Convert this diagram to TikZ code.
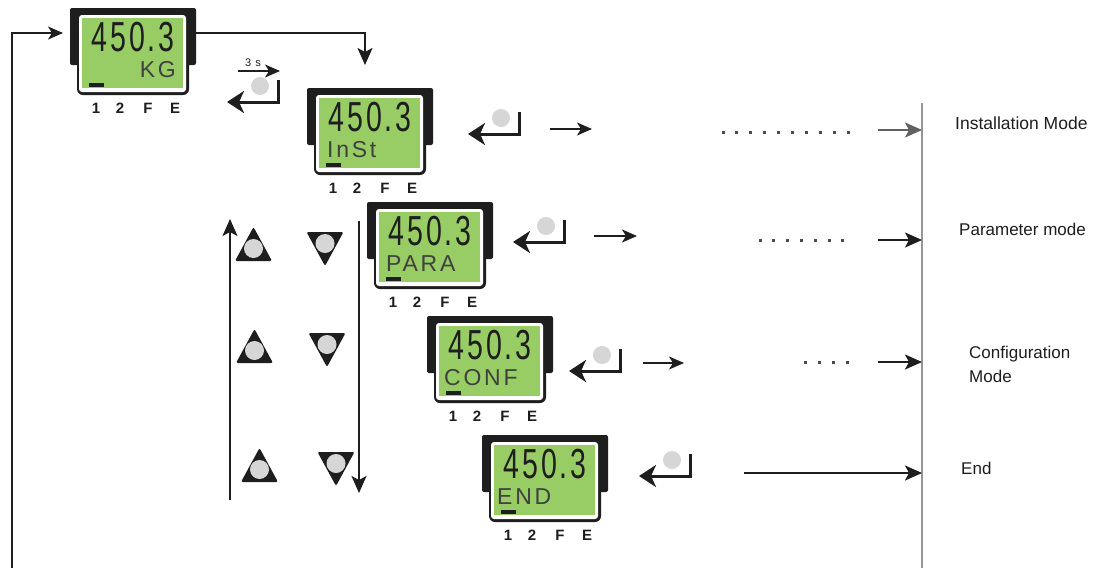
\documentclass[tikz,border=0pt]{standalone}
\usepackage{fontspec}
\setmainfont{Liberation Sans}
\usetikzlibrary{arrows.meta}
\definecolor{lcdgreen}{RGB}{152,204,100}
\definecolor{keygray}{RGB}{214,214,214}
\definecolor{ink}{RGB}{30,30,30}
\definecolor{railgray}{RGB}{150,150,150}
\tikzset{
  enterarrow/.style={line width=3pt, draw=ink, -{Stealth[length=17pt,width=22pt,inset=5pt]}},
  thinarrow/.style={line width=1.3pt, draw=ink, -{Stealth[length=15pt,width=13pt,inset=4pt]}},
  boldarrow/.style={line width=2.2pt, draw=ink, -{Stealth[length=17pt,width=15pt,inset=4pt]}},
  looparrow/.style={line width=1.1pt, draw=ink, -{Stealth[length=15pt,width=13pt,inset=4pt]}},
  keylabel/.style={inner sep=0pt, font=\bfseries\fontsize{15}{15}\selectfont, text=ink},
  modelabel/.style={inner sep=0pt, anchor=west, font=\fontsize{17}{24}\selectfont, text=ink, align=left},
  dotmark/.style={fill=ink!80},
}
\newcommand\lcdunit[6]{%
  \begin{scope}[shift={(#2,#3)}]
    \fill[ink, rounded corners=2pt] (0,0) rectangle (126,57);
    \fill[ink, rounded corners=6pt] (7,30) rectangle (119,87);
    \fill[white, rounded corners=3pt] (9,7) rectangle (116,84);
    \fill[lcdgreen] (12,10) rectangle (113,80);
    \node[inner sep=0pt, font=\fontsize{42}{42}\selectfont\addfontfeature{LetterSpace=10}, text=ink] (#1-dig) at (63,29) {\scalebox{0.68}[1]{450.3}};
    \node[inner sep=0pt, anchor=#5, font=\fontsize{23}{23}\selectfont\addfontfeature{LetterSpace=12}, text=ink!85] (#1-txt) at (#6,62) {#4};
    \fill[ink] (19,75) rectangle (34,79);
    \node[keylabel] (#1-k1) at (26,100) {1};
    \node[keylabel] (#1-k2) at (50,100) {2};
    \node[keylabel] (#1-k3) at (78,100) {F};
    \node[keylabel] (#1-k4) at (105,100) {E};
    \node[inner sep=0pt, minimum width=126pt, minimum height=87pt, anchor=north west] (#1) at (0,0) {};
  \end{scope}}
\newcommand\enterkey[3]{%
  \fill[keygray] (#2-18,#3+6) circle (9);
  \coordinate (#1a) at (#2,#3);
  \coordinate (#1b) at (#2,#3+22);
  \coordinate (#1c) at (#2-51,#3+22);
  \draw[enterarrow] (#1a) -- (#1b) -- (#1c);}
\newcommand\uptri[2]{%
  \fill[ink, rounded corners=2pt] (#1-18.5,#2) -- (#1,#2-34) -- (#1+18.5,#2) -- cycle;
  \fill[keygray] (#1,#2-12.5) circle (9.5);}
\newcommand\downtri[2]{%
  \fill[ink, rounded corners=2pt] (#1-18.5,#2) -- (#1+18.5,#2) -- (#1,#2+34) -- cycle;
  \fill[keygray] (#1,#2+11.5) circle (9.5);}
\begin{document}
\begin{tikzpicture}[x=1pt,y=-1pt]
\useasboundingbox (0,0) rectangle (1094,568);
\fill[white] (0,0) rectangle (1094,568);

% displays
\lcdunit{d1}{70}{8}{KG}{east}{106}
\lcdunit{d2}{307}{88}{InSt}{west}{20}
\lcdunit{d3}{367}{202}{PARA}{west}{19}
\lcdunit{d4}{427}{316}{CONF}{west}{17}
\lcdunit{d5}{482}{435}{END}{west}{15}

% loop back line
\coordinate (loopstart) at (12,568);
\coordinate (loopcorner) at (12,33);
\draw[looparrow, shorten >=7pt] (loopstart) -- (loopcorner) -- (d1.west |- loopcorner);

% top connector to installation display
\coordinate (topcorner) at (365,33);
\coordinate (d2in) at (365,65);
\draw[boldarrow] (d1.east |- topcorner) -- (topcorner) -- (d2in);

% 3 s hint
\coordinate (ts1) at (238,71);
\coordinate (ts2) at (280,71);
\draw[thinarrow] (ts1) -- (ts2);
\node[inner sep=0pt, font=\fontsize{11}{11}\selectfont\addfontfeature{LetterSpace=10}, text=ink] (tslabel) at (253,63) {3 s};

% enter keys
\enterkey{ek0}{278}{80}
\enterkey{ek1}{519}{112}
\enterkey{ek2}{564}{220}
\enterkey{ek3}{620}{349}
\enterkey{ek4}{690}{454}

% right rail
\coordinate (railtop) at (922,103);
\coordinate (railbot) at (922,568);
\draw[railgray, line width=1.5pt] (railtop) -- (railbot);

% row 1
\coordinate (r1a) at (550,129); \coordinate (r1b) at (592,129);
\draw[thinarrow] (r1a) -- (r1b);
\foreach \i in {0,...,9} \fill[dotmark] (723+13.9*\i-1.5,130.5) rectangle +(3,3);
\coordinate (r1c) at (878,130); \coordinate (r1d) at (922,130);
\draw[line width=1.3pt, draw=ink!70, -{Stealth[length=17pt,width=15pt,inset=4pt]}] (r1c) -- (r1d);
\node[modelabel] (m1) at (955,123) {\fontsize{17.5}{24}\selectfont Installation Mode};

% row 2
\coordinate (r2a) at (594,236); \coordinate (r2b) at (637,236);
\draw[thinarrow] (r2a) -- (r2b);
\foreach \i in {0,...,6} \fill[dotmark] (760+13.8*\i-1.5,238.5) rectangle +(3,3);
\coordinate (r2c) at (878,240); \coordinate (r2d) at (922,240);
\draw[boldarrow] (r2c) -- (r2d);
\node[modelabel] (m2) at (959,229) {Parameter mode};

% row 3
\coordinate (r3a) at (643,363); \coordinate (r3b) at (684,363);
\draw[thinarrow] (r3a) -- (r3b);
\foreach \i in {0,...,3} \fill[dotmark] (805+14*\i-1.5,360.5) rectangle +(3,3);
\coordinate (r3c) at (878,362); \coordinate (r3d) at (922,362);
\draw[boldarrow] (r3c) -- (r3d);
\node[modelabel] (m3) at (969,364) {Configuration\\Mode};

% row 4
\coordinate (r4a) at (744,473); \coordinate (r4b) at (922,473);
\draw[boldarrow] (r4a) -- (r4b);
\node[modelabel] (m4) at (961,468) {End};

% up / down navigation
\coordinate (upbot) at (230,500); \coordinate (uptop) at (230,219);
\draw[boldarrow] (upbot) -- (uptop);
\coordinate (dntop) at (359,221); \coordinate (dnbot) at (359,493);
\draw[boldarrow] (dntop) -- (dnbot);

\uptri{253.5}{261}
\downtri{325}{232}
\uptri{254.5}{363}
\downtri{327}{333}
\uptri{259.5}{482}
\downtri{336}{452}
\end{tikzpicture}
\end{document}
